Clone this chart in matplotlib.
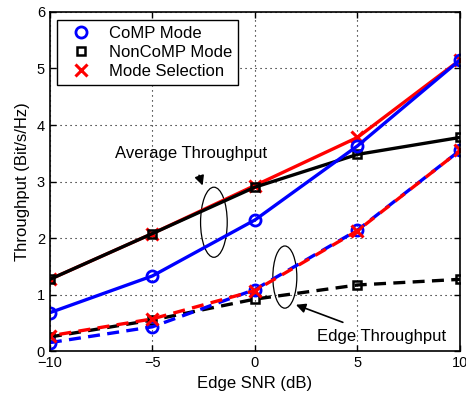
import matplotlib
matplotlib.use('Agg')
import matplotlib.pyplot as plt
from matplotlib.lines import Line2D
from matplotlib.patches import Ellipse

plt.rcParams['font.family'] = ['Liberation Sans', 'DejaVu Sans']

snr = [-10, -5, 0, 5, 10]

# average throughput
avg_comp = [0.68, 1.33, 2.32, 3.63, 5.15]
avg_noncomp = [1.27, 2.08, 2.90, 3.48, 3.78]
avg_sel = [1.27, 2.08, 2.93, 3.78, 5.15]

# edge throughput
edge_comp = [0.15, 0.43, 1.09, 2.14, 3.55]
edge_noncomp = [0.25, 0.55, 0.92, 1.17, 1.27]
edge_sel = [0.27, 0.57, 1.07, 2.13, 3.55]

fig = plt.figure(figsize=(4.66, 3.99), dpi=100)
ax = fig.add_axes([0.107, 0.120, 0.880, 0.850])

lw = 2.4
dash = (0, (3.6, 2.2))
dash2 = (2.9, (3.6, 2.2))

ax.plot(snr, avg_sel, color='red', lw=lw, marker='x', ms=8, mew=2.2)
ax.plot(snr, avg_noncomp, color='black', lw=lw, marker='s', ms=6, mew=1.8,
        mfc='none')
ax.plot(snr, avg_comp, color='blue', lw=lw, marker='o', ms=8, mew=2,
        mfc='none')

ax.plot(snr, edge_noncomp, color='black', lw=lw, ls=dash, marker='s', ms=6,
        mew=1.8, mfc='none')
ax.plot(snr, edge_comp, color='blue', lw=lw, ls=dash, marker='o', ms=8,
        mew=2, mfc='none')
ax.plot(snr, edge_sel, color='red', lw=lw, ls=dash2, marker='x', ms=8,
        mew=2.2)

ax.set_xlim(-10, 10)
ax.set_ylim(0, 6)
ax.set_xticks([-10, -5, 0, 5, 10])
ax.set_yticks(range(0, 7))
ax.tick_params(direction='in', top=True, right=True, labelsize=10.5,
               length=4, width=1)
for s in ax.spines.values():
    s.set_linewidth(1.2)
ax.grid(True, color='black', ls=(0, (1, 3.5)), lw=0.8)

ax.set_xlabel('Edge SNR (dB)', fontsize=12, labelpad=4)
ax.set_ylabel('Throughput (Bit/s/Hz)', fontsize=12, labelpad=5)

# annotations
ax.add_patch(Ellipse((-2.0, 2.28), 1.3, 1.24, fill=False, ec='black', lw=0.9))
ax.add_patch(Ellipse((1.46, 1.31), 1.17, 1.1, fill=False, ec='black', lw=0.9))
ax.annotate('Average Throughput', xy=(-2.55, 2.93), xytext=(-3.1, 3.5),
            fontsize=12, ha='center', va='center',
            arrowprops=dict(arrowstyle='-|>', color='black', lw=1.2,
                            shrinkA=9, shrinkB=0, mutation_scale=14))
ax.annotate('Edge Throughput', xy=(2.0, 0.82), xytext=(6.2, 0.25),
            fontsize=12, ha='center', va='center',
            arrowprops=dict(arrowstyle='-|>', color='black', lw=1.2,
                            shrinkA=9, shrinkB=0, mutation_scale=14))

handles = [
    Line2D([], [], ls='none', marker='o', color='blue', ms=8, mew=2, mfc='none'),
    Line2D([], [], ls='none', marker='s', color='black', ms=6, mew=1.8, mfc='none'),
    Line2D([], [], ls='none', marker='x', color='red', ms=8, mew=2.2),
]
leg = ax.legend(handles, ['CoMP Mode', 'NonCoMP Mode', 'Mode Selection'],
                loc='upper left', bbox_to_anchor=(0.017, 0.976),
                borderaxespad=0, fontsize=12, fancybox=False,
                edgecolor='black', framealpha=1, handlelength=2.2,
                handletextpad=0.6, labelspacing=0.25, borderpad=0.35)
leg.get_frame().set_linewidth(1.0)

fig.savefig('out.png', dpi=100)
